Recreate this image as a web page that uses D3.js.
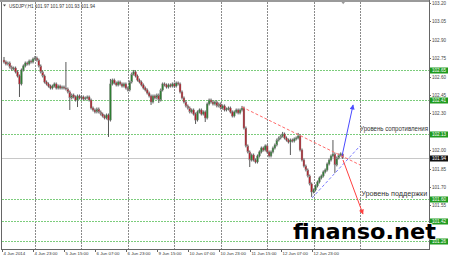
<!DOCTYPE html>
<html>
<head>
<meta charset="utf-8">
<script src="https://cdn.jsdelivr.net/npm/d3@7"></script>
<style>
body{margin:0;background:#fff;}
svg{display:block;font-family:"Liberation Sans",Arial,sans-serif;}
</style>
</head>
<body>
<svg id="chart" width="450" height="258"></svg>
<script>
// USDJPY H1, 4 Jun 2014 07:00 .. 13 Jun 2014
var opens = [102.735,102.719,102.703,102.711,102.678,102.662,102.670,102.638,102.605,102.540,
102.654,102.687,102.711,102.703,102.727,102.719,102.744,102.752,102.735,102.687,
102.638,102.605,102.556,102.540,102.523,102.507,102.523,102.540,102.507,102.523,
102.507,102.515,102.507,102.499,102.475,102.426,102.450,102.434,102.409,102.442,
102.426,102.434,102.418,102.426,102.434,102.409,102.344,102.328,102.312,102.336,
102.312,102.295,102.279,102.263,102.287,102.246,102.540,102.572,102.548,102.532,
102.556,102.540,102.523,102.540,102.507,102.491,102.556,102.621,102.638,102.605,
102.572,102.556,102.532,102.507,102.491,102.466,102.442,102.393,102.442,102.426,
102.450,102.409,102.491,102.540,102.532,102.515,102.532,102.523,102.540,102.523,
102.548,102.540,102.475,102.426,102.393,102.361,102.344,102.312,102.328,102.295,
102.246,102.312,102.328,102.295,102.312,102.263,102.377,102.409,102.393,102.377,
102.393,102.361,102.377,102.344,102.361,102.328,102.336,102.344,102.312,102.279,
102.312,102.328,102.304,102.328,102.344,102.181,102.035,101.986,101.920,101.961,
101.920,101.904,101.953,101.986,102.018,102.002,102.035,101.986,101.953,101.986,
102.018,102.043,102.083,102.100,102.116,102.132,102.100,102.083,102.067,102.083,
102.075,102.092,102.100,102.116,102.002,101.920,101.871,101.839,101.790,101.725,
101.660,101.676,101.709,101.741,101.774,101.790,101.823,101.839,101.888,101.920,
101.953,101.969,101.880,101.937,101.961,101.970];

var highs = [102.760,102.731,102.723,102.723,102.690,102.682,102.682,102.650,102.617,102.666,
102.699,102.723,102.723,102.739,102.739,102.756,102.768,102.764,102.747,102.699,
102.650,102.617,102.568,102.552,102.535,102.535,102.552,102.552,102.535,102.535,
102.527,102.527,102.719,102.511,102.487,102.462,102.462,102.446,102.454,102.454,
102.446,102.446,102.438,102.446,102.446,102.421,102.356,102.340,102.348,102.348,
102.324,102.307,102.291,102.299,102.299,102.581,102.584,102.584,102.560,102.568,
102.568,102.552,102.552,102.552,102.519,102.568,102.633,102.654,102.650,102.617,
102.584,102.568,102.544,102.519,102.503,102.478,102.454,102.454,102.454,102.462,
102.462,102.503,102.552,102.552,102.544,102.544,102.544,102.552,102.552,102.560,
102.560,102.552,102.487,102.438,102.405,102.373,102.356,102.340,102.340,102.307,
102.324,102.340,102.340,102.324,102.324,102.389,102.421,102.421,102.405,102.405,
102.405,102.389,102.389,102.373,102.373,102.348,102.356,102.356,102.324,102.324,
102.340,102.340,102.340,102.361,102.356,102.193,102.047,101.998,101.973,101.973,
101.932,101.965,101.998,102.030,102.030,102.047,102.047,101.998,101.998,102.030,
102.055,102.095,102.112,102.128,102.149,102.144,102.112,102.095,102.095,102.095,
102.104,102.112,102.141,102.128,102.014,101.932,101.883,101.851,101.802,101.737,
101.688,101.721,101.753,101.786,101.802,101.835,101.851,101.900,101.932,101.965,
102.083,101.981,101.949,101.973,101.982,101.970];

var lows = [102.707,102.691,102.691,102.666,102.650,102.650,102.626,102.593,102.434,102.528,
102.642,102.675,102.691,102.691,102.707,102.707,102.732,102.723,102.675,102.626,
102.593,102.544,102.528,102.511,102.495,102.495,102.511,102.495,102.495,102.495,
102.495,102.495,102.487,102.463,102.328,102.414,102.422,102.397,102.352,102.414,
102.414,102.406,102.406,102.414,102.397,102.332,102.316,102.300,102.300,102.300,
102.283,102.267,102.251,102.251,102.108,102.234,102.528,102.536,102.520,102.520,
102.528,102.511,102.511,102.495,102.479,102.479,102.544,102.609,102.593,102.560,
102.544,102.520,102.495,102.479,102.454,102.430,102.369,102.381,102.414,102.414,
102.385,102.397,102.479,102.520,102.503,102.503,102.511,102.511,102.511,102.511,
102.528,102.463,102.414,102.381,102.349,102.332,102.300,102.300,102.283,102.214,
102.234,102.300,102.283,102.283,102.230,102.251,102.365,102.381,102.365,102.365,
102.349,102.349,102.332,102.332,102.316,102.316,102.324,102.300,102.267,102.267,
102.300,102.292,102.292,102.316,102.169,102.023,101.974,101.863,101.908,101.908,
101.892,101.892,101.941,101.974,101.990,101.990,101.974,101.941,101.941,101.974,
102.006,102.031,102.071,102.088,102.104,102.088,102.071,102.055,101.961,102.063,
102.063,102.080,102.088,101.990,101.908,101.859,101.827,101.778,101.713,101.619,
101.648,101.664,101.697,101.729,101.762,101.778,101.811,101.827,101.876,101.908,
101.941,101.815,101.868,101.925,101.949,101.930];

var closes = [102.719,102.703,102.711,102.678,102.662,102.670,102.638,102.605,102.540,102.654,
102.687,102.711,102.703,102.727,102.719,102.744,102.752,102.735,102.687,102.638,
102.605,102.556,102.540,102.523,102.507,102.523,102.540,102.507,102.523,102.507,
102.515,102.507,102.499,102.475,102.426,102.450,102.434,102.409,102.442,102.426,
102.434,102.418,102.426,102.434,102.409,102.344,102.328,102.312,102.336,102.312,
102.295,102.279,102.263,102.287,102.246,102.540,102.572,102.548,102.532,102.556,
102.540,102.523,102.540,102.507,102.491,102.556,102.621,102.638,102.605,102.572,
102.556,102.532,102.507,102.491,102.466,102.442,102.393,102.442,102.426,102.450,
102.409,102.491,102.540,102.532,102.515,102.532,102.523,102.540,102.523,102.548,
102.540,102.475,102.426,102.393,102.361,102.344,102.312,102.328,102.295,102.246,
102.312,102.328,102.295,102.312,102.263,102.377,102.409,102.393,102.377,102.393,
102.361,102.377,102.344,102.361,102.328,102.336,102.344,102.312,102.279,102.312,
102.328,102.304,102.328,102.344,102.181,102.035,101.986,101.920,101.961,101.920,
101.904,101.953,101.986,102.018,102.002,102.035,101.986,101.953,101.986,102.018,
102.043,102.083,102.100,102.116,102.132,102.100,102.083,102.067,102.083,102.075,
102.092,102.100,102.116,102.002,101.920,101.871,101.839,101.790,101.725,101.660,
101.676,101.709,101.741,101.774,101.790,101.823,101.839,101.888,101.920,101.953,
101.969,101.880,101.937,101.961,101.970,101.940];

// time axis labels, one every 16 bars
var timeLabels = ["4 Jun 2014","4 Jun 23:00","5 Jun 15:00","6 Jun 07:00","6 Jun 23:00","9 Jun 15:00",
                  "10 Jun 07:00","10 Jun 23:00","11 Jun 15:00","12 Jun 07:00","12 Jun 23:00"];
var labelBars = [0,16,32,48,64,80,96,112,128,144,160];
var separatorBars = [16,40,64,88,112,136,160,184];

var priceTicks = [103.20,103.05,102.90,102.75,102.60,102.45,102.30,102.00,101.85,101.70,101.55];
var levels = [102.65,102.41,102.13,101.60,101.42,101.26];
var lastPrice = 101.94;

// drawn objects: [bar, price]
var resistLine = [[123,102.352],[184,101.880]];
var supportLine = [[159.2,101.611],[184,102.035]];
var upArrow = [[174.7,101.953],[180.4,102.369]];
var downArrow = [[175.2,101.920],[185.5,101.480]];

var pLeft = 2, pRight = 429, pTop = 2, pBottom = 249;

var svg = d3.select("#chart");
var x = d3.scaleLinear().domain([0,220]).range([4,429.7]);
var y = d3.scaleLinear().domain([101.26,103.20]).range([241,3]);

var defs = svg.append("defs");
defs.append("clipPath").attr("id","plotclip")
  .append("rect").attr("x",pLeft).attr("y",pTop).attr("width",pRight-pLeft).attr("height",pBottom-pTop);
function marker(id,color){
  defs.append("marker").attr("id",id)
    .attr("viewBox","0 0 10 10").attr("refX",9).attr("refY",5)
    .attr("markerWidth",6).attr("markerHeight",5).attr("markerUnits","userSpaceOnUse")
    .attr("orient","auto")
    .append("path").attr("d","M0,0L10,5L0,10z").attr("fill",color);
}
marker("arrBlue","#4a4aff");
marker("arrRed","#ff4040");

var plot = svg.append("g").attr("clip-path","url(#plotclip)");

// day separators
plot.selectAll(".sep").data(separatorBars).enter().append("line")
  .attr("x1",d => Math.round(x(d))+0.5).attr("x2",d => Math.round(x(d))+0.5)
  .attr("y1",pTop).attr("y2",pBottom)
  .attr("stroke","#8a8a8a").attr("stroke-width",1).attr("stroke-dasharray","2,1");

// horizontal levels
plot.selectAll(".lvl").data(levels).enter().append("line")
  .attr("x1",pLeft).attr("x2",pRight)
  .attr("y1",d => Math.round(y(d))+0.5).attr("y2",d => Math.round(y(d))+0.5)
  .attr("stroke","#7ccc7c").attr("stroke-width",1).attr("stroke-dasharray","2,1");

// bid line
plot.append("line").attr("x1",pLeft).attr("x2",pRight)
  .attr("y1",Math.round(y(lastPrice))+0.5).attr("y2",Math.round(y(lastPrice))+0.5)
  .attr("stroke","#c8c8c8").attr("stroke-width",1);

// candles
var bars = plot.append("g");
closes.forEach(function(c,i){
  var o = opens[i], h = highs[i], l = lows[i];
  bars.append("line").attr("x1",x(i)).attr("x2",x(i))
    .attr("y1",y(h)).attr("y2",y(l))
    .attr("stroke","#444").attr("stroke-width",0.9);
  var yt = y(Math.max(o,c)), yb = y(Math.min(o,c));
  bars.append("rect").attr("x",x(i)-0.9).attr("width",1.8)
    .attr("y",yt).attr("height",Math.max(0.8,yb-yt))
    .attr("fill",c >= o ? "#2e7d32" : "#b0202a")
    .attr("stroke","#888").attr("stroke-width",0.4);
});

// trend lines
var line = d3.line().x(d => x(d[0])).y(d => y(d[1]));
plot.append("path").attr("d",line(resistLine)).attr("fill","none")
  .attr("stroke","#ff6a6a").attr("stroke-width",1).attr("stroke-dasharray","3,2");
plot.append("path").attr("d",line(supportLine)).attr("fill","none")
  .attr("stroke","#7a7aff").attr("stroke-width",1).attr("stroke-dasharray","3,2");
plot.append("path").attr("d",line(upArrow)).attr("fill","none")
  .attr("stroke","#4a4aff").attr("stroke-width",1).attr("marker-end","url(#arrBlue)");
plot.append("path").attr("d",line(downArrow)).attr("fill","none")
  .attr("stroke","#ff4040").attr("stroke-width",1).attr("marker-end","url(#arrRed)");

plot.append("text").attr("x",x(184)).attr("y",y(102.157))
  .attr("font-size",7).attr("fill","#333")
  .attr("textLength",68).attr("lengthAdjust","spacingAndGlyphs")
  .text("Уровень сопротивления");
plot.append("text").attr("x",x(184.6)).attr("y",y(101.627))
  .attr("font-size",7).attr("fill","#333")
  .attr("textLength",66).attr("lengthAdjust","spacingAndGlyphs")
  .text("Уровень поддержки");

// frame
svg.append("rect").attr("x",0).attr("y",0).attr("width",430).attr("height",2).attr("fill","#9a9a9a");
svg.append("line").attr("x1",1.5).attr("x2",1.5).attr("y1",2).attr("y2",pBottom).attr("stroke","#666");
svg.append("line").attr("x1",pRight+0.5).attr("x2",pRight+0.5).attr("y1",0).attr("y2",pBottom).attr("stroke","#666");
svg.append("line").attr("x1",1).attr("x2",pRight+1).attr("y1",pBottom+0.5).attr("y2",pBottom+0.5).attr("stroke","#666");

// header
svg.append("path").attr("d","M3,4.5L6,4.5L4.5,6.5z").attr("fill","#444");
svg.append("text").attr("x",9).attr("y",7.6).attr("font-size",4.6).attr("fill","#333")
  .text("USDJPY,H1  101.97 101.97 101.93 101.94");
svg.append("path").attr("d","M341.5,2L345,2L343.2,4.2z").attr("fill","#999");

// price axis
var pa = svg.append("g");
priceTicks.forEach(function(p){
  var yy = Math.round(y(p))+0.5;
  pa.append("line").attr("x1",pRight).attr("x2",pRight+2).attr("y1",yy).attr("y2",yy).attr("stroke","#666");
  pa.append("text").attr("x",432).attr("y",yy+1.6).attr("font-size",4.6).attr("fill","#444")
    .text(p.toFixed(2));
});
levels.forEach(function(p){
  var yy = Math.round(y(p))+0.5;
  pa.append("rect").attr("x",430).attr("y",yy-3).attr("width",18).attr("height",6).attr("fill","#1f9b1f");
  pa.append("text").attr("x",432).attr("y",yy+1.6).attr("font-size",4.6).attr("fill","#fff")
    .text(p.toFixed(2));
});
var yBid = Math.round(y(lastPrice))+0.5;
pa.append("rect").attr("x",430).attr("y",yBid-3).attr("width",18).attr("height",6).attr("fill","#111");
pa.append("text").attr("x",432).attr("y",yBid+1.6).attr("font-size",4.6).attr("fill","#fff")
  .text(lastPrice.toFixed(2));

// time axis
var ta = svg.append("g");
labelBars.forEach(function(b,k){
  var xx = Math.round(x(b))-1.5;
  ta.append("line").attr("x1",xx).attr("x2",xx).attr("y1",pBottom).attr("y2",pBottom+3).attr("stroke","#666");
  ta.append("text").attr("x",xx+1).attr("y",255).attr("font-size",4.4).attr("fill","#333")
    .text(timeLabels[k]);
});

// watermark
svg.append("text").attr("x",293).attr("y",239)
  .attr("font-family","'DejaVu Sans',Verdana,sans-serif").attr("font-weight","bold")
  .attr("font-size",22).attr("fill","#000")
  .attr("stroke","#fff").attr("stroke-width",1.5).attr("paint-order","stroke")
  .attr("textLength",143).attr("lengthAdjust","spacingAndGlyphs")
  .text("finanso.net");
</script>
</body>
</html>
